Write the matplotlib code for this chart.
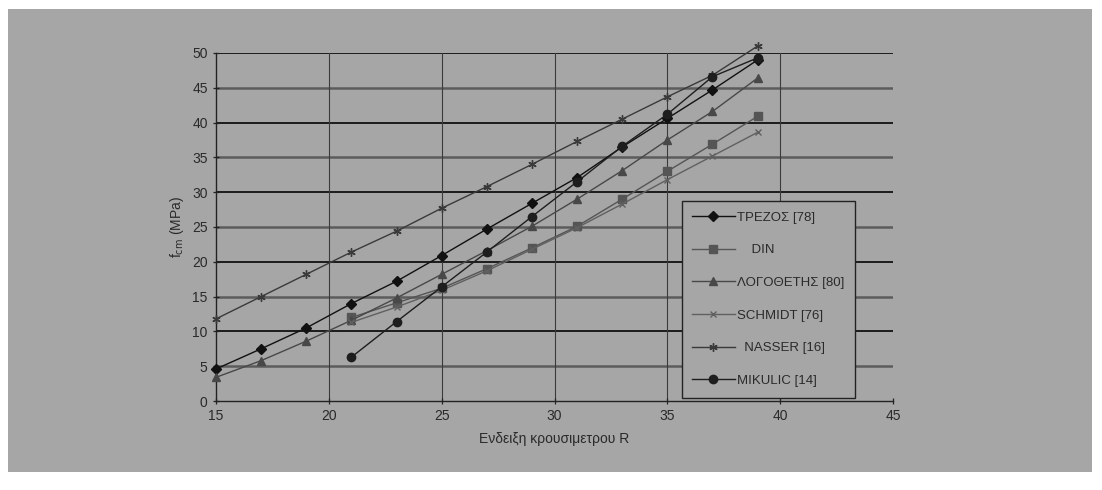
import matplotlib
matplotlib.use("Agg")
import matplotlib.pyplot as plt
from matplotlib.patches import Rectangle

plt.rcParams['font.family'] = ['Liberation Sans', 'DejaVu Sans']

# τιμές κρουσιμέτρου R
r_full = [15, 17, 19, 21, 23, 25, 27, 29, 31, 33, 35, 37, 39]
r_part = [21, 23, 25, 27, 29, 31, 33, 35, 37, 39]

# fcm (MPa) ανά σχέση
trezos = [4.6, 7.5, 10.5, 14.0, 17.2, 20.9, 24.7, 28.4, 32.1, 36.5, 40.6, 44.7, 49.0]
din = [12.0, 14.1, 16.2, 19.0, 22.0, 25.1, 29.0, 33.0, 36.9, 40.9]
logothetis = [3.4, 5.8, 8.6, 11.6, 14.8, 18.2, 21.6, 25.1, 29.0, 33.1, 37.5, 41.6, 46.4]
schmidt = [11.3, 13.5, 15.9, 18.7, 21.8, 24.9, 28.3, 31.8, 35.2, 38.6]
nasser = [11.8, 15.0, 18.2, 21.4, 24.4, 27.7, 30.8, 34.0, 37.3, 40.5, 43.7, 46.8, 51.0]
mikulic = [6.3, 11.4, 16.4, 21.4, 26.5, 31.5, 36.6, 41.2, 46.6, 49.3]

labels = ['ΤΡΕΖΟΣ [78]', '    DIN', 'ΛΟΓΟΘΕΤΗΣ [80]', 'SCHMIDT [76]', '  NASSER [16]', 'MIKULIC [14]']

bg = '#a6a6a6'
fig = plt.figure(figsize=(11.02, 4.90), dpi=100, facecolor='white')
# γκρι πλαίσιο πίσω από το διάγραμμα
fig.add_artist(Rectangle((8 / 1102, 18 / 490), 1084 / 1102, 463 / 490,
                         transform=fig.transFigure, facecolor=bg, edgecolor='none', zorder=-10))

ax = fig.add_axes([216 / 1102, 89 / 490, 677 / 1102, 348 / 490])
ax.set_zorder(5)
ax.set_facecolor(bg)

# γραμμές πλέγματος
for v in range(5, 51, 5):
    if v % 10 == 0:
        ax.axhline(v, color='#111111', lw=1.3, zorder=1)
    else:
        ax.axhline(v, color='#5c5c5c', lw=1.8, zorder=1)
for v in range(20, 45, 5):
    ax.axvline(v, color='#3a3a3a', lw=0.8, zorder=1)

kw = dict(lw=1.0, clip_on=False, zorder=3)
ax.plot(r_full, trezos, color='#111111', marker='D', ms=5, label=labels[0], **kw)
ax.plot(r_part, din, color='#555555', marker='s', ms=6, label=labels[1], **kw)
ax.plot(r_full, logothetis, color='#484848', marker='^', ms=6, label=labels[2], **kw)
ax.plot(r_part, schmidt, color='#606060', marker='x', ms=5, mew=1.0, label=labels[3], **kw)
ax.plot(r_full, nasser, color='#3a3a3a', marker=(6, 2, 0), ms=6, mew=1.0, label=labels[4], **kw)
ax.plot(r_part, mikulic, color='#1e1e1e', marker='o', ms=6, label=labels[5], **kw)

ax.set_xlim(15, 45)
ax.set_ylim(0, 50)
ax.set_xticks(range(15, 46, 5))
ax.set_yticks(range(0, 51, 5))
for s in ['top', 'right']:
    ax.spines[s].set_visible(False)
for s in ['left', 'bottom']:
    ax.spines[s].set_color('#222222')
    ax.spines[s].set_linewidth(1.0)
ax.tick_params(axis='both', direction='inout', length=5, width=0.9, color='#222222',
               labelsize=10, labelcolor='#2a2a2a')

ax.set_xlabel('Ενδειξη κρουσιμετρου R', fontsize=10, color='#2a2a2a', labelpad=6)
ax.set_ylabel('f$_{\\rm cm}$ (MPa)', fontsize=10, color='#2a2a2a', labelpad=4)

leg = ax.legend(loc='lower right', bbox_to_anchor=(0.944, 0.01), fontsize=9.5,
                frameon=True, fancybox=False, facecolor=bg, edgecolor='#222222',
                framealpha=1, handlelength=3.2, labelspacing=1.55, borderpad=0.8,
                handletextpad=0.2, borderaxespad=0)
leg.get_frame().set_linewidth(1.0)
for t in leg.get_texts():
    t.set_color('#2a2a2a')

fig.savefig('out.png', dpi=100, facecolor='white')
